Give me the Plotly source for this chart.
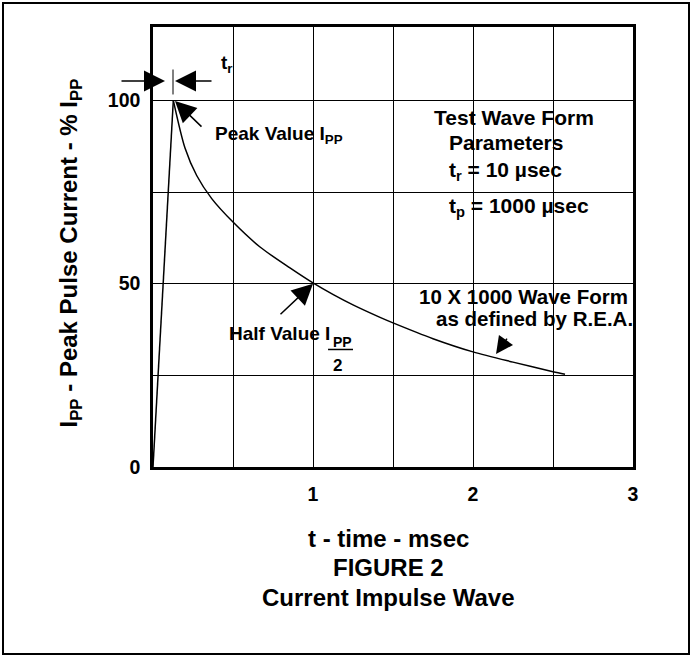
import plotly.graph_objects as go

# ---- data ----
rise_t_ms = [0, 0.127]
rise_pct = [0, 100]
decay_t_ms = [0.127, 0.2, 0.273, 0.367, 0.5, 0.669, 0.856, 1.0, 1.127, 1.25, 1.419, 1.5,
              1.75, 2.0, 2.25, 2.5, 2.575]
decay_pct = [100, 87.0, 79.5, 73.2, 66.8, 60.0, 54.3, 50.2, 47.0, 44.2, 40.8, 39.3,
             35.0, 31.4, 28.6, 26.0, 25.3]

x_ticks = [1, 2, 3]
x_ticktext = ["1", "2", "3"]
y_ticks = [0, 50, 100]
y_ticktext = ["0", "50", "100"]

FONT = "Liberation Sans, Arial, Helvetica, sans-serif"
BLACK = "#000000"

# plot area in pixels
W, H = 692, 656
L, R, T, B = 153, 633, 27, 467


def px2paper(px, py):
    return (px - L) / (R - L), (B - py) / (B - T)


fig = go.Figure()
fig.add_trace(go.Scatter(
    x=rise_t_ms, y=rise_pct, mode="lines",
    line=dict(color=BLACK, width=1.5),
    hoverinfo="skip", showlegend=False,
))
fig.add_trace(go.Scatter(
    x=decay_t_ms, y=decay_pct, mode="lines",
    line=dict(color=BLACK, width=1.5, shape="spline", smoothing=0.8),
    hoverinfo="skip", showlegend=False,
))


def txt(text, x, y, size, xanchor="center", ref="x", angle=0):
    d = dict(text=text, x=x, y=y, showarrow=False, xanchor=xanchor, yanchor="middle",
             font=dict(family=FONT, size=size, color=BLACK, weight="bold"), textangle=angle)
    if ref == "x":
        d.update(xref="x", yref="y")
    else:
        d.update(xref="paper", yref="paper")
    fig.add_annotation(**d)


def arrow(x, y, ax, ay, size=2.8):
    fig.add_annotation(x=x, y=y, xref="x", yref="y", ax=ax, ay=ay, text="",
                       showarrow=True, arrowhead=2, arrowsize=size, arrowwidth=1.5,
                       arrowcolor=BLACK, standoff=0)


# text block on the right
txt("Test Wave Form", 2.259, 95.2, 21)
txt("Parameters", 2.209, 88.4, 21)
txt("t<sub>r</sub> = 10 µsec", 1.8375, 80.8, 21, xanchor="left")
txt("t<sub>p</sub> = 1000 µsec", 1.8375, 71.0, 21, xanchor="left")

# peak value
txt("Peak Value I<sub>PP</sub>", 0.375, 90.5, 19, xanchor="left")
arrow(0.1375, 99.8, 28, 27)

# rise time marker
arrow(0.075, 105.3, -45, 0)
arrow(0.1375, 105.3, 38, 0)
fig.add_shape(type="line", x0=0.125, x1=0.125, y0=101.6, y1=108.4, xref="x", yref="y",
              line=dict(color=BLACK, width=1))
txt("t<sub>r</sub>", 0.4125, 110.0, 19, xanchor="left")

# half value
txt("Half Value I", 0.4625, 36.5, 19, xanchor="left")
txt("PP", 1.184, 34.1, 14)
fig.add_shape(type="line", x0=1.094, x1=1.25, y0=32.05, y1=32.05, xref="x", yref="y",
              line=dict(color=BLACK, width=1.5))
txt("2", 1.156, 27.8, 17)
arrow(1.0, 50.0, -34, 32)

# 10 x 1000 wave form
txt("10 X 1000 Wave Form", 2.316, 46.4, 20.5)
txt("as defined by R.E.A.", 2.384, 40.55, 20.5)
arrow(2.144, 30.8, 12, -17, size=2.3)

# axis titles & caption
px, py = px2paper(70, 253.5)
txt("I<sub>PP</sub> - Peak Pulse Current - % I<sub>PP</sub>", px, py, 24, ref="paper", angle=-90)
px, py = px2paper(388, 538)
txt("t - time - msec", px, py, 24, ref="paper")
px, py = px2paper(388, 567)
txt("FIGURE 2", px, py, 24, ref="paper")
px, py = px2paper(388, 597)
txt("Current Impulse Wave", px, py, 24, ref="paper")

# outer frame
x0, y0 = px2paper(3, 654)
x1, y1 = px2paper(689, 3)
fig.add_shape(type="rect", xref="paper", yref="paper", x0=x0, y0=y0, x1=x1, y1=y1,
              line=dict(color=BLACK, width=2), layer="below")

axis_common = dict(
    showline=True, linecolor=BLACK, linewidth=2.5, mirror=True,
    showgrid=True, gridcolor=BLACK, gridwidth=1,
    zeroline=False, ticks="",
    tickfont=dict(family=FONT, size=19.5, color=BLACK, weight="bold"),
    fixedrange=True,
)

fig.update_layout(
    width=W, height=H, autosize=False,
    margin=dict(l=L, r=W - R, t=T, b=H - B, pad=0),
    paper_bgcolor="white", plot_bgcolor="white",
    showlegend=False,
    font=dict(family=FONT, color=BLACK),
    xaxis=dict(range=[0, 3], tickmode="array", tickvals=x_ticks, ticktext=x_ticktext,
               ticklabelstandoff=8,
               minor=dict(tick0=0, dtick=0.5, showgrid=True, gridcolor=BLACK, gridwidth=1, ticks=""),
               **axis_common),
    yaxis=dict(range=[0, 120], tickmode="array", tickvals=y_ticks, ticktext=y_ticktext,
               ticklabelstandoff=6,
               minor=dict(tick0=0, dtick=25, showgrid=True, gridcolor=BLACK, gridwidth=1, ticks=""),
               **axis_common),
)

fig.write_html("out.html", config={"displayModeBar": False},
               post_script="document.body.style.margin='0';")
